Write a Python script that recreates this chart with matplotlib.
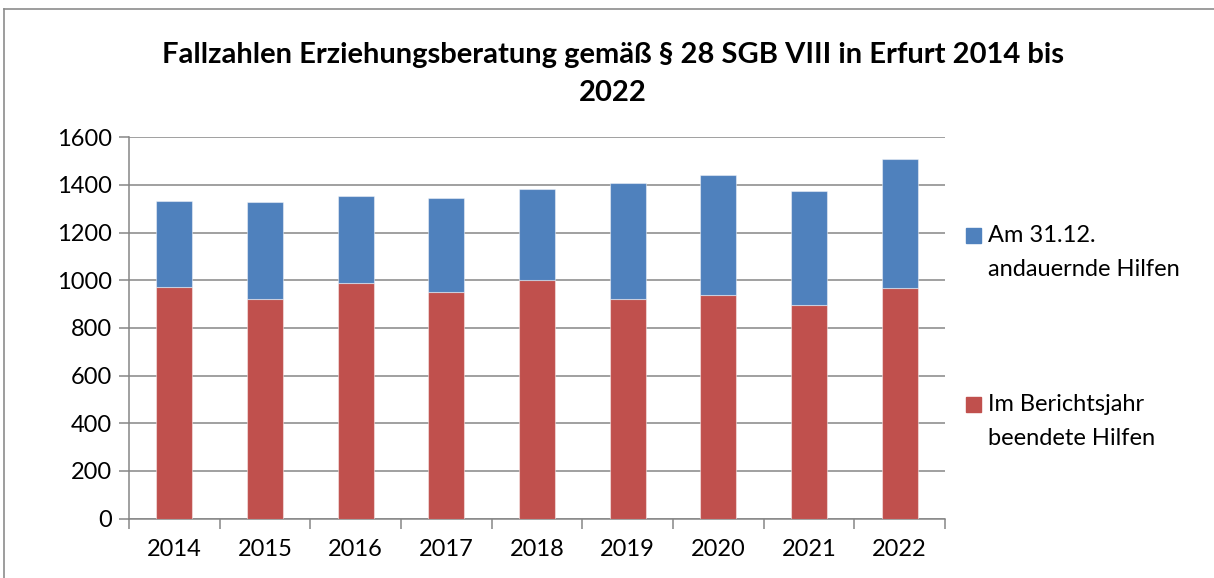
import matplotlib
matplotlib.use("Agg")
import matplotlib.pyplot as plt
from matplotlib.patches import Rectangle
from matplotlib.lines import Line2D
import numpy as np

years = ["2014", "2015", "2016", "2017", "2018", "2019", "2020", "2021", "2022"]
beendet = [973, 920, 987, 951, 1001, 920, 940, 895, 966]
andauernd = [358, 407, 368, 393, 381, 487, 502, 478, 543]
label_andauernd = "Am 31.12.\nandauernde Hilfen"
label_beendet = "Im Berichtsjahr\nbeendete Hilfen"
title = "Fallzahlen Erziehungsberatung gemäß § 28 SGB VIII in Erfurt 2014 bis\n2022"
yticks = [0, 200, 400, 600, 800, 1000, 1200, 1400, 1600]

blue = "#4F81BD"
red = "#C0504D"
grid = "#868686"

plt.rcParams['font.family'] = ['Lato', 'DejaVu Sans']

W, H = 1214, 578
fig = plt.figure(figsize=(W / 100, H / 100), dpi=100)
ax = fig.add_axes([129 / W, 1 - 518.6 / H, (945 - 129) / W, (518.6 - 137.3) / H])

x = np.arange(len(years))
ax.bar(x, beendet, width=0.4, color=red, edgecolor=(1, 1, 1, 0.45), linewidth=0.8, zorder=3)
ax.bar(x, andauernd, width=0.4, bottom=beendet, color=blue, edgecolor=(1, 1, 1, 0.45), linewidth=0.8, zorder=3)

ax.set_xlim(-0.5, len(years) - 0.5)
ax.set_ylim(0, 1600)
ax.set_yticks(yticks)
ax.set_yticklabels([str(v) for v in yticks])
ax.yaxis.grid(True, color=grid, linewidth=1.1, zorder=0)
ax.set_axisbelow(True)

ax.set_xticks(x)
ax.set_xticklabels(years)
ax.set_xticks(np.arange(-0.5, len(years)), minor=True)
ax.tick_params(axis='x', which='major', length=0, pad=15, labelsize=17)
ax.tick_params(axis='x', which='minor', length=7, width=1.1, color=grid, direction='out')
ax.tick_params(axis='y', which='major', length=7, width=1.1, color=grid, direction='out', pad=5, labelsize=17)

for s in ['top', 'right']:
    ax.spines[s].set_visible(False)
for s in ['left', 'bottom']:
    ax.spines[s].set_color(grid)
    ax.spines[s].set_linewidth(1.1)

title_lines = title.split("\n")
for line, yc in zip(title_lines, [55, 93]):
    fig.text(613 / W, 1 - yc / H, line, ha='center', va='center', fontsize=21,
             fontweight='bold')

# legend
for (lab, col, ytop) in [(label_andauernd, blue, 228), (label_beendet, red, 397)]:
    fig.patches.append(Rectangle((966 / W, 1 - (ytop + 15) / H), 15 / W, 15 / H,
                                 transform=fig.transFigure, color=col, figure=fig))
    fig.text(988 / W, 1 - (ytop + 7.5) / H, lab.split("\n")[0], ha='left', va='center', fontsize=17)
    fig.text(988 / W, 1 - (ytop + 41.5) / H, lab.split("\n")[1], ha='left', va='center', fontsize=17)

# chart frame
fig.lines.append(Line2D([4 / W, 4 / W], [0, 1 - 9 / H], transform=fig.transFigure, color='#8c8c8c', lw=1.2))
fig.lines.append(Line2D([4 / W, 1], [1 - 9 / H, 1 - 9 / H], transform=fig.transFigure, color='#8c8c8c', lw=1.2))

fig.savefig("out.png", dpi=100)
